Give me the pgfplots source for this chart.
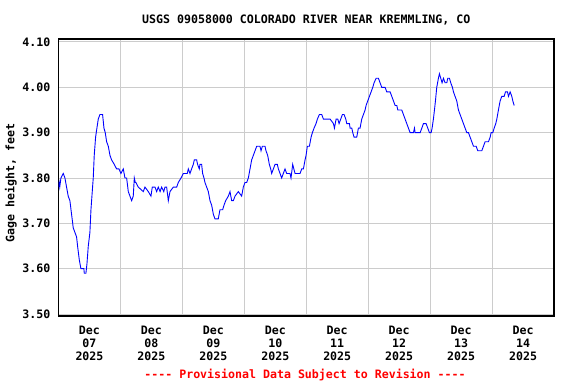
\documentclass[border=0pt]{standalone}
\usepackage{pgfplots}
\pgfplotsset{compat=1.18}
\usepackage{fontspec}
\setmonofont{DejaVu Sans Mono}
\definecolor{gridgray}{RGB}{204,204,204}
\newcommand{\usgsfont}{\fontsize{11.6}{13}\selectfont\ttfamily\bfseries}
\pgfplotstableread{
x y
0.000 3.78
0.010 3.79
0.020 3.78
0.039 3.80
0.077 3.81
0.104 3.80
0.130 3.78
0.157 3.76
0.184 3.75
0.211 3.72
0.238 3.69
0.265 3.68
0.292 3.67
0.308 3.65
0.335 3.62
0.362 3.60
0.410 3.60
0.416 3.59
0.443 3.59
0.459 3.61
0.481 3.65
0.507 3.68
0.524 3.73
0.545 3.77
0.561 3.80
0.577 3.85
0.599 3.89
0.620 3.91
0.642 3.93
0.669 3.94
0.712 3.94
0.734 3.91
0.755 3.90
0.777 3.88
0.804 3.87
0.831 3.85
0.857 3.84
0.901 3.83
0.938 3.82
0.976 3.82
1.008 3.81
1.046 3.82
1.073 3.80
1.100 3.80
1.127 3.77
1.154 3.76
1.181 3.75
1.207 3.76
1.224 3.80
1.240 3.79
1.251 3.79
1.288 3.78
1.369 3.77
1.396 3.78
1.450 3.77
1.493 3.76
1.514 3.78
1.558 3.78
1.585 3.77
1.611 3.78
1.640 3.77
1.665 3.78
1.700 3.77
1.719 3.78
1.746 3.78
1.773 3.75
1.800 3.77
1.854 3.78
1.908 3.78
1.934 3.79
1.978 3.80
2.015 3.81
2.079 3.81
2.096 3.82
2.123 3.81
2.149 3.82
2.176 3.83
2.193 3.84
2.230 3.84
2.246 3.83
2.273 3.82
2.284 3.83
2.311 3.83
2.327 3.81
2.349 3.80
2.365 3.79
2.392 3.78
2.419 3.77
2.446 3.75
2.473 3.74
2.500 3.72
2.526 3.71
2.580 3.71
2.607 3.73
2.650 3.73
2.672 3.74
2.699 3.75
2.742 3.76
2.769 3.77
2.796 3.75
2.823 3.75
2.850 3.76
2.903 3.77
2.957 3.76
2.984 3.78
3.011 3.79
3.038 3.79
3.065 3.80
3.092 3.82
3.119 3.84
3.146 3.85
3.173 3.86
3.200 3.87
3.253 3.87
3.270 3.86
3.291 3.87
3.334 3.87
3.350 3.86
3.377 3.85
3.404 3.83
3.426 3.82
3.442 3.81
3.469 3.82
3.496 3.83
3.533 3.83
3.550 3.82
3.577 3.81
3.603 3.80
3.630 3.81
3.657 3.82
3.684 3.81
3.738 3.81
3.754 3.80
3.781 3.83
3.819 3.81
3.900 3.81
3.927 3.82
3.954 3.82
3.981 3.84
3.997 3.85
4.018 3.87
4.051 3.87
4.078 3.89
4.099 3.90
4.126 3.91
4.158 3.92
4.180 3.93
4.212 3.94
4.250 3.94
4.277 3.93
4.385 3.93
4.439 3.92
4.455 3.91
4.482 3.93
4.509 3.93
4.530 3.92
4.557 3.93
4.584 3.94
4.611 3.94
4.638 3.93
4.654 3.92
4.697 3.92
4.708 3.91
4.735 3.91
4.751 3.90
4.772 3.89
4.815 3.89
4.842 3.91
4.869 3.91
4.896 3.93
4.923 3.94
4.950 3.95
4.966 3.96
4.993 3.97
5.020 3.98
5.047 3.99
5.074 4.00
5.095 4.01
5.128 4.02
5.165 4.02
5.192 4.01
5.219 4.00
5.273 4.00
5.300 3.99
5.354 3.99
5.381 3.98
5.408 3.97
5.435 3.96
5.462 3.96
5.478 3.95
5.542 3.95
5.569 3.94
5.596 3.93
5.623 3.92
5.650 3.91
5.677 3.90
5.731 3.90
5.747 3.91
5.758 3.90
5.839 3.90
5.866 3.91
5.892 3.92
5.935 3.92
5.962 3.91
5.989 3.90
6.016 3.90
6.032 3.91
6.053 3.93
6.070 3.95
6.086 3.97
6.107 4.00
6.134 4.02
6.150 4.03
6.172 4.02
6.193 4.01
6.215 4.02
6.242 4.01
6.269 4.01
6.285 4.02
6.312 4.02
6.333 4.01
6.360 4.00
6.377 3.99
6.403 3.98
6.430 3.97
6.457 3.95
6.484 3.94
6.511 3.93
6.538 3.92
6.565 3.91
6.592 3.90
6.619 3.90
6.646 3.89
6.673 3.88
6.700 3.87
6.743 3.87
6.770 3.86
6.834 3.86
6.861 3.87
6.888 3.88
6.942 3.88
6.969 3.89
6.985 3.90
7.012 3.90
7.034 3.91
7.060 3.92
7.077 3.93
7.103 3.95
7.130 3.97
7.157 3.98
7.195 3.98
7.217 3.99
7.249 3.99
7.265 3.98
7.292 3.99
7.319 3.98
7.335 3.97
7.357 3.96
}\gage
\begin{document}
\begin{tikzpicture}[x=1pt,y=1pt]
\path[use as bounding box] (0,0) rectangle (576,384);
\begin{axis}[
  at={(58.5pt,68pt)}, anchor=south west,
  scale only axis, width=495.5pt, height=277pt,
  xmin=0, xmax=8, ymin=3.4956, ymax=4.1066,
  xtick={0.5,1.5,2.5,3.5,4.5,5.5,6.5,7.5},
  xticklabels={{Dec\\07\\2025},{Dec\\08\\2025},{Dec\\09\\2025},{Dec\\10\\2025},{Dec\\11\\2025},{Dec\\12\\2025},{Dec\\13\\2025},{Dec\\14\\2025}},
  minor xtick={1,2,3,4,5,6,7},
  xminorgrids, ymajorgrids,
  ytick={3.5,3.6,3.7,3.8,3.9,4.0,4.1},
  yticklabels={3.50,3.60,3.70,3.80,3.90,4.00,4.10},
  major tick length=0pt, minor tick length=0pt,
  grid style={gridgray, line width=1pt},
  minor grid style={gridgray, line width=1pt},
  axis line style={black, line width=1.2pt},
  tick label style={font=\usgsfont},
  x tick label style={align=center, yshift=-6.5pt},
  y tick label style={xshift=-4.6pt},
  ylabel={Gage height, feet},
  every axis y label/.style={at={(axis description cs:-0.0959,0.48)}, rotate=90, anchor=center, font=\usgsfont},
]
\addplot[blue, line width=0.9pt] table[x=x, y=y] {\gage};
\end{axis}
\node[anchor=base, font=\usgsfont] at (306.3,360) {USGS 09058000 COLORADO RIVER NEAR KREMMLING, CO};
\node[anchor=base, text=red, font=\usgsfont] at (305,5.7) {---- Provisional Data Subject to Revision ----};
\end{tikzpicture}
\end{document}
